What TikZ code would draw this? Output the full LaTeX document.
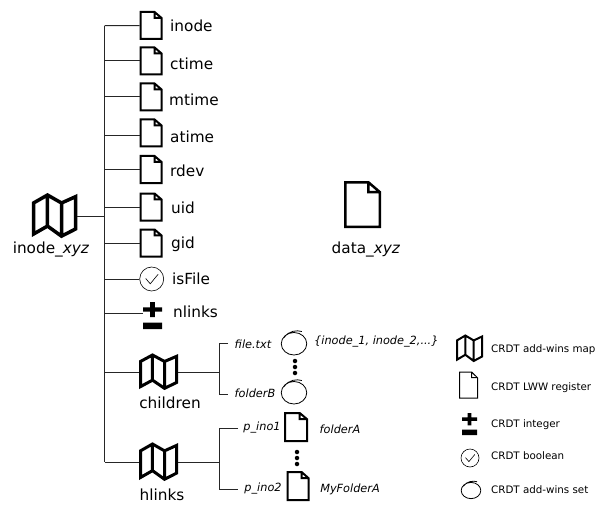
\documentclass[tikz,border=0pt]{standalone}
\usepackage{fontspec}
\setmainfont{DejaVu Sans}
\usetikzlibrary{calc}
\tikzstyle{wire} = [line width=1pt, black!85]
\tikzstyle{icon} = [rectangle, inner sep=0pt, outer sep=0pt]
\tikzset{
    docicon/.style n args={3}{icon, minimum width=#1pt+#3pt, minimum height=#2pt+#3pt, path picture={
        \draw[shift={(path picture bounding box.center)}, x=#1pt, y=#2pt, line width=#3pt, miter limit=4]
            (-.5,-.5) -- (-.5,.5) -- (.17,.5) -- (.5,.28) -- (.5,-.5) -- cycle
            (.17,.5) -- (.17,.28) -- (.5,.28);
    }},
    mapicon/.style n args={3}{icon, minimum width=#1pt+#3pt, minimum height=#2pt+#3pt, path picture={
        \draw[shift={(path picture bounding box.center)}, x=#1pt, y=#2pt, line width=#3pt, line join=miter]
            (-.5,.31) -- (-.167,.5) -- (.167,.31) -- (.5,.46) -- (.5,-.31) -- (.167,-.48) -- (-.167,-.24) -- (-.5,-.43) -- cycle
            (-.167,.5) -- (-.167,-.24)
            (.167,.31) -- (.167,-.48);
    }},
    setsicon/.style 2 args={icon, minimum width=#1pt+3pt, minimum height=#2pt+4pt, path picture={
        \draw[shift={(path picture bounding box.center)}, x=#1pt, y=#2pt, line width=.8pt]
            (0,-.03) ellipse (.49 and .45)
            (-.38,.22) .. controls (-.2,.5) and (.12,.52) .. (.3,.46);
    }},
    boolicon/.style={icon, minimum size=#1pt+1pt, path picture={
        \draw[shift={(path picture bounding box.center)}, x=#1pt, y=#1pt, line width=.6pt]
            (0,0) circle (.5)
            (-.25,.02) -- (-.06,-.2) -- (.27,.2);
    }},
    inticon/.style 2 args={icon, minimum width=#1pt, minimum height=#2pt, path picture={
        \fill[shift={(path picture bounding box.center)}, x=#1pt, y=#2pt]
            (-.5,-.5) rectangle (.5,-.26)
            (-.5,.14) rectangle (.5,.3)
            (-.13,-.06) rectangle (.13,.5);
    }},
    txt/.style={inner sep=0pt, font=\fontsize{15.3}{18}\selectfont},
    ittxt/.style={inner sep=0pt, font=\fontsize{11.3}{14}\selectfont\itshape},
    legendtxt/.style={inner sep=0pt, anchor=west, font=\fontsize{10.3}{12}\selectfont},
    dot/.style={circle, fill=black, inner sep=0pt, minimum size=4.5pt}
}

\begin{document}
\begin{tikzpicture}[x=1pt, y=-1pt]
    \useasboundingbox (0,0) rectangle (596,505);

    % root and trunk
    \node [mapicon={42}{42}{3.5}] (inodexyz) at (54.5,216) {};
    \node [txt] (inodexyzlabel) at (51,249) {inode\_\textit{xyz}};
    \coordinate (trunktop) at (104.7,25.7);
    \coordinate (trunkend) at (104.7,462);

    % registers
    \node [docicon={21}{27}{2}] (inode) at (151,25.5) {};
    \node [docicon={21}{27}{2}] (ctime) at (151,61) {};
    \node [docicon={21}{27}{2}] (mtime) at (151,97) {};
    \node [docicon={21}{27}{2}] (atime) at (151,133) {};
    \node [docicon={21}{27}{2}] (rdev) at (151,169.5) {};
    \node [docicon={21}{27}{2}] (uid) at (151,207) {};
    \node [docicon={21}{27}{2}] (gid) at (151,243) {};
    \node [txt, anchor=west] (inodelabel) at (170,26) {inode};
    \node [txt, anchor=west] (ctimelabel) at (170,64) {ctime};
    \node [txt, anchor=west] (mtimelabel) at (169,100) {mtime};
    \node [txt, anchor=west] (atimelabel) at (170,137) {atime};
    \node [txt, anchor=west] (rdevlabel) at (170,171) {rdev};
    \node [txt, anchor=west] (uidlabel) at (171,208) {uid};
    \node [txt, anchor=west] (gidlabel) at (171,244) {gid};

    % boolean and integer
    \node [boolicon=24] (isfile) at (151.7,279) {};
    \node [txt, anchor=west] (isfilelabel) at (172,279) {isFile};
    \node [inticon={19}{27}] (nlinks) at (152.5,315.5) {};
    \node [txt, anchor=west] (nlinkslabel) at (173,312) {nlinks};

    % maps
    \node [mapicon={36}{34}{3}] (children) at (158.5,372) {};
    \node [txt] (childrenlabel) at (170,403) {children};
    \node [mapicon={36}{36}{3}] (hlinks) at (158.5,462) {};
    \node [txt] (hlinkslabel) at (162,495) {hlinks};

    % children entries
    \coordinate (childrenfork) at (219.3,372);
    \coordinate (filestub) at (228,343);
    \coordinate (folderstub) at (228,394);
    \node [ittxt] (filetxt) at (253,344) {file.txt};
    \node [ittxt] (folderb) at (255,393) {folderB};
    \node [setsicon={26}{25}] (fileset) at (294,343) {};
    \node [setsicon={26}{25}] (folderset) at (294,392) {};
    \node [ittxt, anchor=west] (inodeset) at (314,342) {\{inode\_1, inode\_2,...\}};
    \node [dot] (setdota) at (295,361) {};
    \node [dot] (setdotb) at (295,367) {};
    \node [dot] (setdotc) at (295,373) {};

    % hlinks entries
    \coordinate (hlinksfork) at (219.3,462);
    \coordinate (inoastub) at (238,428);
    \coordinate (inobstub) at (238,489);
    \node [ittxt] (pinoa) at (262,428) {p\_ino1};
    \node [ittxt] (pinob) at (263,489) {p\_ino2};
    \node [docicon={22}{28}{2}] (foldera) at (296,427) {};
    \node [docicon={21}{28}{2}] (folderc) at (298,486) {};
    \node [ittxt] (folderalabel) at (340,429) {folderA};
    \node [ittxt] (folderclabel) at (350,489) {MyFolderA};
    \node [dot] (inodota) at (297,452) {};
    \node [dot] (inodotb) at (297,458) {};
    \node [dot] (inodotc) at (297,464) {};

    % data
    \node [docicon={34.5}{44.5}{2.5}] (dataxyz) at (362.5,204.5) {};
    \node [txt] (dataxyzlabel) at (366,249) {data\_\textit{xyz}};

    % legend
    \node [mapicon={25}{26}{2}] (legendmap) at (469.5,348.5) {};
    \node [docicon={18}{26}{1}] (legenddoc) at (468.5,385) {};
    \node [inticon={15}{22}] (legendint) at (469.5,424) {};
    \node [boolicon=18] (legendbool) at (470,458) {};
    \node [setsicon={20}{18}] (legendset) at (471,490) {};
    \node [legendtxt] (legendmaplabel) at (491,350) {CRDT add-wins map};
    \node [legendtxt] (legenddoclabel) at (491,388) {CRDT LWW register};
    \node [legendtxt] (legendintlabel) at (491,425) {CRDT integer};
    \node [legendtxt] (legendboollabel) at (491,456) {CRDT boolean};
    \node [legendtxt] (legendsetlabel) at (491,490) {CRDT add-wins set};

    % connectors
    \coordinate (atimestub) at (104.7,136);
    \coordinate (nlinksstub) at (104.7,313);
    \draw [wire] (trunktop) -- (trunkend);
    \draw [wire] (inodexyz) -- (inodexyz -| trunktop);
    \draw [wire] (trunktop) -- (inode);
    \draw [wire] (ctime -| trunktop) -- (ctime);
    \draw [wire] (mtime -| trunktop) -- (mtime);
    \draw [wire] (atimestub) -- (atimestub -| atime.west);
    \draw [wire] (rdev -| trunktop) -- (rdev);
    \draw [wire] (uid -| trunktop) -- (uid);
    \draw [wire] (gid -| trunktop) -- (gid);
    \draw [wire] (isfile -| trunktop) -- (isfile);
    \draw [wire] (nlinksstub) -- (nlinksstub -| nlinks.west);
    \draw [wire] (children -| trunktop) -- (children);
    \draw [wire] (trunkend) -- (hlinks);
    \draw [wire] (children) -- (childrenfork);
    \draw [wire] (filestub) -- (filestub -| childrenfork) -- (folderstub -| childrenfork) -- (folderstub);
    \draw [wire] (hlinks) -- (hlinksfork);
    \draw [wire] (inoastub) -- (inoastub -| hlinksfork) -- (inobstub -| hlinksfork) -- (inobstub);
\end{tikzpicture}
\end{document}
